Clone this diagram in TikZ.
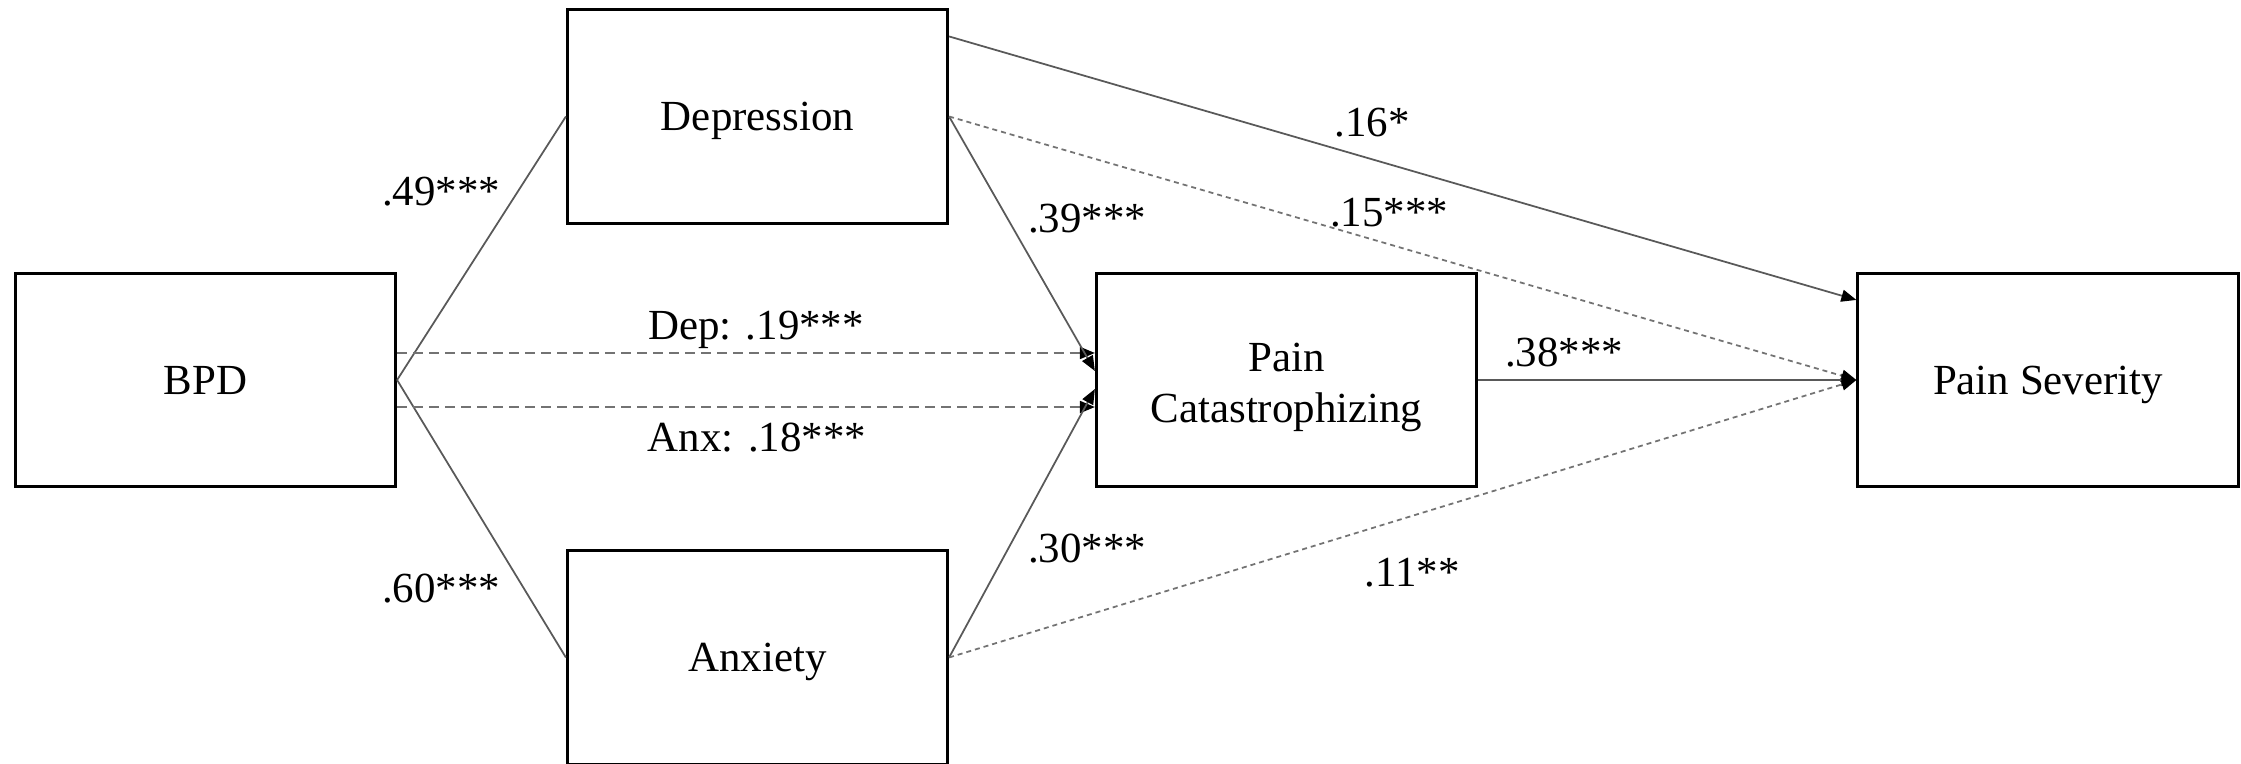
\documentclass[tikz,border=0pt]{standalone}
\usepackage{fontspec}
\setmainfont{Liberation Serif}
\usetikzlibrary{arrows.meta}
\begin{document}
\begin{tikzpicture}[x=0.01cm,y=-0.01cm,
  font=\fontsize{12.2}{14.5}\selectfont,
  var/.style={draw=black,line width=0.85pt,minimum width=3.8cm,minimum height=2.13cm,
    inner sep=0pt,text height=0.285cm,text depth=0pt},
  tip/.style={-{Triangle[length=0.15cm,width=0.12cm,color=black]}},
  path/.style={draw=black!65,line width=0.5pt},
  direct/.style={path,draw=black!55,dash pattern=on 0.1cm off 0.06cm},
  indirect/.style={path,draw=black!55,dash pattern=on 0.05cm off 0.04cm},
  coef/.style={anchor=base,inner sep=0pt}]
\useasboundingbox (0,0) rectangle (2241,764);

% variables
\node[var] (bpd) at (205.5,380) {BPD};
\node[var] (dep) at (757.5,116.5) {Depression};
\node[var] (anx) at (757.5,657.5) {Anxiety};
\node[var,align=center,text height=0.84cm,text depth=0pt] (pc) at (1286.5,380) {Pain\\Catastrophizing};
\node[var] (ps) at (2048,380) {Pain Severity};

% a paths
\draw[path] (bpd.east) -- (dep.west);
\draw[path] (bpd.east) -- (anx.west);

% indirect effects of BPD on catastrophizing
\draw[direct,tip] ([yshift=0.27cm]bpd.east) -- ([yshift=0.27cm]pc.west);
\draw[direct,tip] ([yshift=-0.27cm]bpd.east) -- ([yshift=-0.27cm]pc.west);

% b paths
\draw[path,tip] (dep.east) -- ([yshift=0.09cm]pc.west);
\draw[path,tip] (anx.east) -- ([yshift=-0.09cm]pc.west);

% paths to pain severity
\draw[path,tip] ([yshift=0.8cm]dep.east) -- ([yshift=0.8cm]ps.west);
\draw[indirect,tip] (dep.east) -- (ps.west);
\draw[indirect,tip] (anx.east) -- (ps.west);
\draw[path,tip] (pc.east) -- (ps.west);

% coefficients
\node[coef] (c49) at (441,206) {.49***};
\node[coef] (c60) at (441,603) {.60***};
\node[coef] (cdep) at (756,340) {Dep: .19***};
\node[coef] (canx) at (757,452) {Anx: .18***};
\node[coef] (c39) at (1087,233) {.39***};
\node[coef] (c30) at (1087,563) {.30***};
\node[coef] (c16) at (1372,137) {.16*};
\node[coef] (c15) at (1389,227) {.15***};
\node[coef] (c38) at (1564,367) {.38***};
\node[coef] (c11) at (1412,587) {.11**};
\end{tikzpicture}
\end{document}
